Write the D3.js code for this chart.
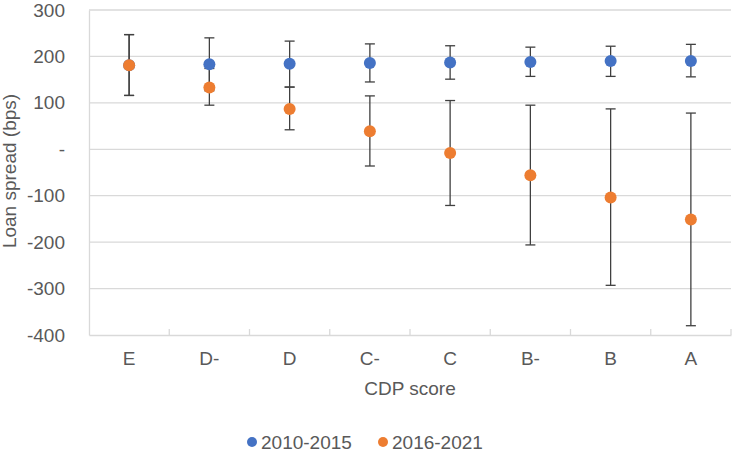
<!DOCTYPE html>
<html>
<head>
<meta charset="utf-8">
<script src="https://cdn.jsdelivr.net/npm/d3@7"></script>
<style>
  body { margin: 0; background: #fff; }
  svg { display: block; }
</style>
</head>
<body>
<div id="chart"></div>
<script>
'use strict';

// Data
var scores      = ['E', 'D-', 'D', 'C-', 'C', 'B-', 'B', 'A'];
var yTicks      = [300, 200, 100, 0, -100, -200, -300, -400];

var early       = [181, 183, 184, 186, 187, 188, 190, 190];   // 2010-2015
var earlyLow    = [116, 126, 134, 145, 151, 157, 157, 156];
var earlyHigh   = [247, 240, 233, 227, 223, 220, 222, 226];

var late        = [181, 133, 87, 39, -8, -56, -104, -151];    // 2016-2021
var lateLow     = [116, 95, 42, -36, -121, -206, -293, -380];
var lateHigh    = [247, 174, 134, 115, 105, 95, 87, 78];

var seriesNames = ['2010-2015', '2016-2021'];

var chartApp = chartApp || {};

chartApp.const = {
  WIDTH:  733,
  HEIGHT: 452,
  FONT:   "'Liberation Sans', Arial, sans-serif",
  SIZE:   '19px',
  TEXT:   '#595959',
  GRID:   '#d9d9d9',
  BAR:    '#404040'
};

chartApp.colors = ['#4472c4', '#ed7d31'];

chartApp.series = [
  { name: seriesNames[0], values: early, low: earlyLow, high: earlyHigh, color: chartApp.colors[0] },
  { name: seriesNames[1], values: late,  low: lateLow,  high: lateHigh,  color: chartApp.colors[1] }
];

var margin = { top: 10, right: 2, bottom: 117, left: 89 };
var w = chartApp.const.WIDTH - margin.left - margin.right;
var h = chartApp.const.HEIGHT - margin.top - margin.bottom;

var svg = d3.select('#chart').append('svg')
  .attr('width', chartApp.const.WIDTH)
  .attr('height', chartApp.const.HEIGHT)
  .style('font-family', chartApp.const.FONT);

var g = svg.append('g').attr('transform', 'translate(' + margin.left + ',' + margin.top + ')');

var x = d3.scaleBand().domain(scores).range([0, w]);
var y = d3.scaleLinear().domain([-400, 300]).range([h, 0]);

// horizontal gridlines
g.append('g')
  .selectAll('line')
  .data(yTicks.filter(function (t) { return t !== -400; }))
  .join('line')
  .attr('x1', 0).attr('x2', w)
  .attr('y1', function (d) { return y(d); })
  .attr('y2', function (d) { return y(d); })
  .attr('stroke', chartApp.const.GRID)
  .attr('stroke-width', 1.3);

// y axis (labels only, zero shown as a dash like Excel's accounting format)
var yAxis = g.append('g')
  .call(d3.axisLeft(y).tickValues(yTicks).tickSize(0).tickPadding(24)
    .tickFormat(function (d) { return d === 0 ? '-' : d; }));
yAxis.select('.domain').attr('stroke', chartApp.const.GRID).attr('stroke-width', 1.3);
yAxis.selectAll('text')
  .style('font-size', chartApp.const.SIZE)
  .attr('fill', chartApp.const.TEXT);

// x axis with inside tick marks between categories
var xAxis = g.append('g')
  .attr('transform', 'translate(0,' + h + ')')
  .call(d3.axisBottom(x).tickSize(0).tickPadding(17));
xAxis.select('.domain').attr('stroke', chartApp.const.GRID).attr('stroke-width', 1.3);
xAxis.selectAll('text')
  .style('font-size', chartApp.const.SIZE)
  .attr('fill', chartApp.const.TEXT);

xAxis.append('g')
  .selectAll('line')
  .data(scores.slice(1).concat(['end']))
  .join('line')
  .attr('x1', function (d, i) { return x.step() * (i + 1); })
  .attr('x2', function (d, i) { return x.step() * (i + 1); })
  .attr('y1', 0).attr('y2', -6)
  .attr('stroke', chartApp.const.GRID)
  .attr('stroke-width', 1.3);

// axis titles
svg.append('text')
  .attr('transform', 'translate(16,171) rotate(-90)')
  .attr('text-anchor', 'middle')
  .style('font-size', chartApp.const.SIZE)
  .attr('fill', chartApp.const.TEXT)
  .text('Loan spread (bps)');

svg.append('text')
  .attr('x', margin.left + w / 2)
  .attr('y', 395)
  .attr('text-anchor', 'middle')
  .style('font-size', chartApp.const.SIZE)
  .attr('fill', chartApp.const.TEXT)
  .text('CDP score');

var cx = function (d, i) { return x(scores[i]) + x.bandwidth() / 2; };

// error bars
chartApp.series.forEach(function (s) {
  var eb = g.append('g');
  eb.selectAll('line.v')
    .data(s.values)
    .join('line')
    .attr('class', 'v')
    .attr('x1', cx).attr('x2', cx)
    .attr('y1', function (d, i) { return y(s.high[i]); })
    .attr('y2', function (d, i) { return y(s.low[i]); })
    .attr('stroke', chartApp.const.BAR)
    .attr('stroke-width', 1.3);
  ['high', 'low'].forEach(function (k) {
    eb.selectAll('line.' + k)
      .data(s.values)
      .join('line')
      .attr('class', k)
      .attr('x1', function (d, i) { return cx(d, i) - 5; })
      .attr('x2', function (d, i) { return cx(d, i) + 5; })
      .attr('y1', function (d, i) { return y(s[k][i]); })
      .attr('y2', function (d, i) { return y(s[k][i]); })
      .attr('stroke', chartApp.const.BAR)
      .attr('stroke-width', 1.3);
  });
});

// markers
chartApp.series.forEach(function (s) {
  g.append('g')
    .selectAll('circle')
    .data(s.values)
    .join('circle')
    .attr('cx', cx)
    .attr('cy', function (d) { return y(d); })
    .attr('r', 6)
    .attr('fill', s.color);
});

// legend
var legend = svg.append('g').attr('transform', 'translate(0,442)');
var legendX = [252, 383];
chartApp.series.forEach(function (s, i) {
  legend.append('circle')
    .attr('cx', legendX[i]).attr('cy', 0).attr('r', 5)
    .attr('fill', s.color);
  legend.append('text')
    .attr('x', legendX[i] + 9).attr('y', 7)
    .style('font-size', chartApp.const.SIZE)
    .attr('fill', chartApp.const.TEXT)
    .text(s.name);
});
</script>
</body>
</html>
